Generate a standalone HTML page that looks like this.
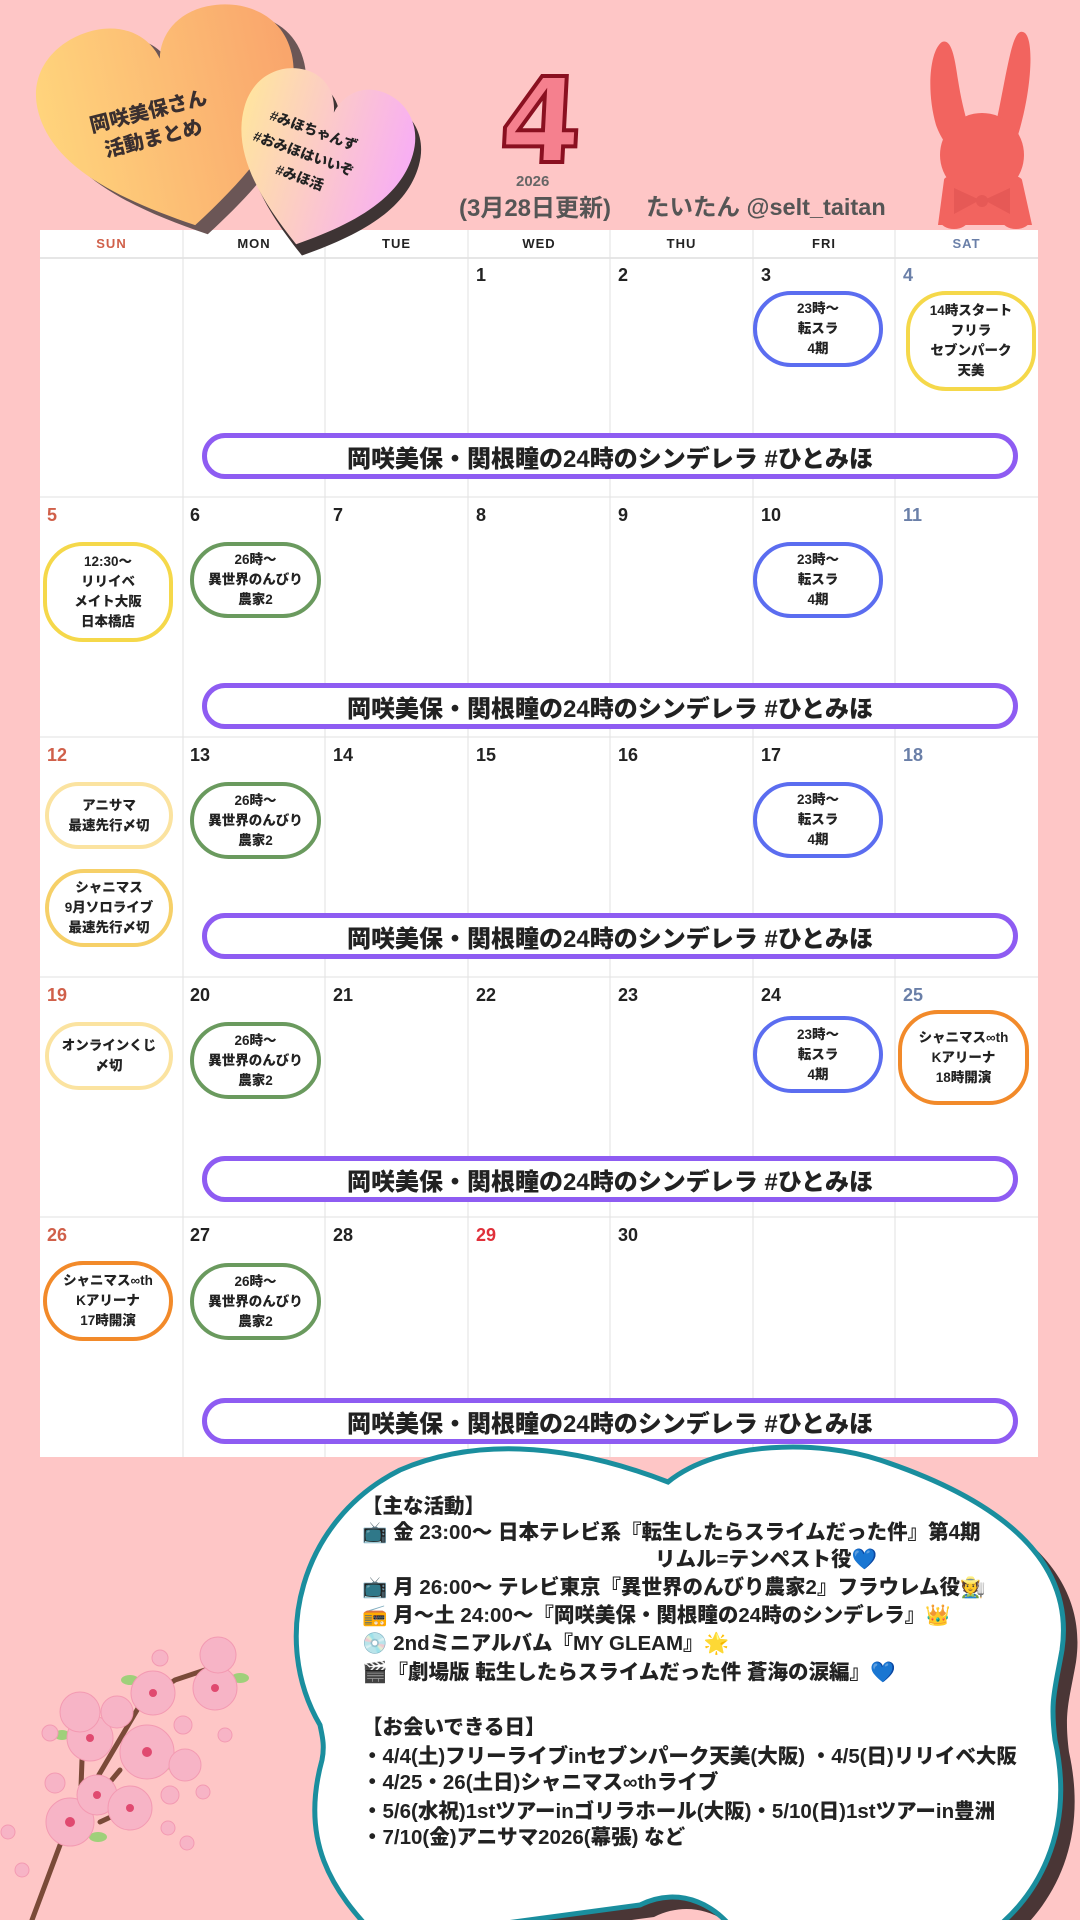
<!DOCTYPE html>
<html><head><meta charset="utf-8">
<style>
*{margin:0;padding:0;box-sizing:border-box}
html,body{width:1080px;height:1920px;overflow:hidden}
body{background:#fec6c6;position:relative;font-family:"Liberation Sans","Noto Sans CJK JP",sans-serif;font-weight:700;color:#222}
.a{position:absolute}
.pill{position:absolute;border-radius:40px;border:4px solid;background:#fff;display:flex;align-items:center;justify-content:center;text-align:center;font-size:13.5px;line-height:20px;font-weight:900}
.bl{border-color:#5b6df0}.gr{border-color:#6a9a5e}.ye{border-color:#f5d84a}.py{border-color:#fbe3a0}.or{border-color:#f28a2a}.gy{border-color:#f6d068}
.bar{position:absolute;left:202px;width:816px;height:46px;border:5px solid #8e5cf2;border-radius:24px;background:#fff;display:flex;align-items:center;justify-content:center;font-size:24px;font-weight:900}
.dn{position:absolute;font-size:18px;font-weight:900}
.hd{position:absolute;top:230px;height:27px;font-size:13px;display:flex;align-items:center;justify-content:center;font-weight:900;letter-spacing:1px}
.ct{position:absolute;left:362px;font-size:20.5px;font-weight:900;white-space:nowrap;line-height:26px}
</style></head><body>

<!-- 4 -->
<div class="a" style="left:500px;top:62px;font-size:118px;font-weight:900;color:#f5808e;-webkit-text-stroke:4px #8a1020;line-height:1;font-family:'DejaVu Sans',sans-serif;transform:skewX(-3deg)">4</div>
<div class="a" style="left:516px;top:173px;font-size:15px;color:#666;font-weight:900">2026</div>
<div class="a" style="left:459px;top:188px;font-size:24px;color:#555;font-weight:700">(3月28日更新)</div>
<div class="a" style="left:646px;top:188px;font-size:23.5px;color:#555;font-weight:700">たいたん @selt_taitan</div>

<!-- rabbit -->
<svg class="a" style="left:920px;top:20px" width="140" height="210">
<g fill="#f2645f">
<path d="M22,22 C10,30 6,70 16,105 C22,122 32,132 42,140 L58,130 C48,110 42,85 38,60 C35,40 32,18 22,22Z"/>
<path d="M103,12 C115,15 112,70 98,115 L88,135 L70,128 C78,100 84,60 90,35 C94,18 98,10 103,12Z"/>
<circle cx="62" cy="135" r="42"/>
<path d="M24,160 C24,150 100,150 102,160 L112,205 L18,205Z"/>
<ellipse cx="34" cy="200" rx="14" ry="9"/><ellipse cx="96" cy="200" rx="14" ry="9"/>
</g>
<path d="M34,168 L60,180 L34,194Z M90,168 L64,180 L90,194Z" fill="#e65956"/>
<circle cx="62" cy="181" r="6" fill="#e65956"/>
</svg>

<!-- calendar -->
<div class="a" style="left:40px;top:230px;width:998px;height:1227px;background:#fff"></div>
<div class="a" style="left:40px;top:257px;width:998px;height:2px;background:#e6e6e6"></div>
<svg class="a" style="left:40px;top:230px" width="998" height="1227">
<g stroke="#e2e2e2" stroke-width="1">
<line x1="143" y1="0" x2="143" y2="1227"/><line x1="285" y1="0" x2="285" y2="1227"/><line x1="428" y1="0" x2="428" y2="1227"/><line x1="570" y1="0" x2="570" y2="1227"/><line x1="713" y1="0" x2="713" y2="1227"/><line x1="855" y1="0" x2="855" y2="1227"/>
<line x1="0" y1="267" x2="998" y2="267"/><line x1="0" y1="507" x2="998" y2="507"/><line x1="0" y1="747" x2="998" y2="747"/><line x1="0" y1="987" x2="998" y2="987"/>
</g></svg>
<div class="hd" style="left:40px;width:143px;color:#d0604a">SUN</div>
<div class="hd" style="left:183px;width:142px">MON</div>
<div class="hd" style="left:325px;width:143px">TUE</div>
<div class="hd" style="left:468px;width:142px">WED</div>
<div class="hd" style="left:610px;width:143px">THU</div>
<div class="hd" style="left:753px;width:142px">FRI</div>
<div class="hd" style="left:895px;width:143px;color:#6a7fa8">SAT</div>

<!-- hearts (above calendar) -->
<svg class="a" style="left:0;top:0" width="460" height="290">
<defs>
<linearGradient id="g1" x1="0" x2="1" y1="0" y2="0"><stop offset="0" stop-color="#ffd47c"/><stop offset="1" stop-color="#f9a56c"/></linearGradient>
<linearGradient id="g2" x1="0" x2="1" y1="0" y2="0"><stop offset="0" stop-color="#ffe4a0"/><stop offset="1" stop-color="#f8aef4"/></linearGradient>
<path id="h" d="M50,92 C20,72 0,52 0,28 C0,10 14,0 28,0 C40,0 48,8 50,18 C52,8 60,0 72,0 C86,0 100,10 100,28 C100,52 80,72 50,92Z"/>
</defs>
<g transform="translate(42,16) rotate(-12 130 100) scale(2.6,2.3)">
<use href="#h" fill="#6b5656" transform="translate(4,5)"/>
<use href="#h" fill="url(#g1)"/>
</g>
<g transform="translate(232,78) rotate(16 90 85) scale(1.75,1.85)">
<use href="#h" fill="#3e3434" transform="translate(5,5)"/>
<use href="#h" fill="url(#g2)"/>
</g>
<g font-family="Liberation Sans,Noto Sans CJK JP,sans-serif" font-weight="900" fill="#3a2f2f">
<text x="150" y="118" font-size="20" text-anchor="middle" transform="rotate(-14 150 118)">岡咲美保さん</text>
<text x="155" y="145" font-size="20" text-anchor="middle" transform="rotate(-14 155 145)">活動まとめ</text>
</g>
<g font-family="Liberation Sans,Noto Sans CJK JP,sans-serif" font-weight="900" fill="#222" font-size="14">
<text x="312" y="135" text-anchor="middle" transform="rotate(20 312 135)">#みほちゃんず</text>
<text x="302" y="158" text-anchor="middle" transform="rotate(20 302 158)">#おみほはいいぞ</text>
<text x="298" y="182" text-anchor="middle" transform="rotate(20 298 182)">#みほ活</text>
</g>
</svg>

<!-- day numbers -->
<div class="dn" style="left:476px;top:265px">1</div><div class="dn" style="left:618px;top:265px">2</div><div class="dn" style="left:761px;top:265px">3</div><div class="dn" style="left:903px;top:265px;color:#6a7fa8">4</div>
<div class="dn" style="left:47px;top:505px;color:#d0604a">5</div><div class="dn" style="left:190px;top:505px">6</div><div class="dn" style="left:333px;top:505px">7</div><div class="dn" style="left:476px;top:505px">8</div><div class="dn" style="left:618px;top:505px">9</div><div class="dn" style="left:761px;top:505px">10</div><div class="dn" style="left:903px;top:505px;color:#6a7fa8">11</div>
<div class="dn" style="left:47px;top:745px;color:#d0604a">12</div><div class="dn" style="left:190px;top:745px">13</div><div class="dn" style="left:333px;top:745px">14</div><div class="dn" style="left:476px;top:745px">15</div><div class="dn" style="left:618px;top:745px">16</div><div class="dn" style="left:761px;top:745px">17</div><div class="dn" style="left:903px;top:745px;color:#6a7fa8">18</div>
<div class="dn" style="left:47px;top:985px;color:#d0604a">19</div><div class="dn" style="left:190px;top:985px">20</div><div class="dn" style="left:333px;top:985px">21</div><div class="dn" style="left:476px;top:985px">22</div><div class="dn" style="left:618px;top:985px">23</div><div class="dn" style="left:761px;top:985px">24</div><div class="dn" style="left:903px;top:985px;color:#6a7fa8">25</div>
<div class="dn" style="left:47px;top:1225px;color:#d0604a">26</div><div class="dn" style="left:190px;top:1225px">27</div><div class="dn" style="left:333px;top:1225px">28</div><div class="dn" style="left:476px;top:1225px;color:#e0303a">29</div><div class="dn" style="left:618px;top:1225px">30</div>

<!-- pills -->
<div class="pill bl" style="left:753px;top:291px;width:130px;height:76px">23時～<br>転スラ<br>4期</div>
<div class="pill ye" style="left:906px;top:291px;width:130px;height:100px">14時スタート<br>フリラ<br>セブンパーク<br>天美</div>
<div class="pill ye" style="left:43px;top:542px;width:130px;height:100px">12:30～<br>リリイベ<br>メイト大阪<br>日本橋店</div>
<div class="pill gr" style="left:190px;top:542px;width:131px;height:76px">26時～<br>異世界のんびり<br>農家2</div>
<div class="pill bl" style="left:753px;top:542px;width:130px;height:76px">23時～<br>転スラ<br>4期</div>
<div class="pill py" style="left:45px;top:782px;width:128px;height:67px">アニサマ<br>最速先行〆切</div>
<div class="pill gy" style="left:45px;top:869px;width:128px;height:78px">シャニマス<br>9月ソロライブ<br>最速先行〆切</div>
<div class="pill gr" style="left:190px;top:782px;width:131px;height:77px">26時～<br>異世界のんびり<br>農家2</div>
<div class="pill bl" style="left:753px;top:782px;width:130px;height:76px">23時～<br>転スラ<br>4期</div>
<div class="pill py" style="left:45px;top:1022px;width:128px;height:68px">オンラインくじ<br>〆切</div>
<div class="pill gr" style="left:190px;top:1022px;width:131px;height:77px">26時～<br>異世界のんびり<br>農家2</div>
<div class="pill bl" style="left:753px;top:1016px;width:130px;height:77px">23時～<br>転スラ<br>4期</div>
<div class="pill or" style="left:898px;top:1010px;width:131px;height:95px">シャニマス∞th<br>Kアリーナ<br>18時開演</div>
<div class="pill or" style="left:43px;top:1261px;width:130px;height:80px">シャニマス∞th<br>Kアリーナ<br>17時開演</div>
<div class="pill gr" style="left:190px;top:1263px;width:131px;height:77px">26時～<br>異世界のんびり<br>農家2</div>

<!-- bars -->
<div class="bar" style="top:433px">岡咲美保・関根瞳の24時のシンデレラ #ひとみほ</div>
<div class="bar" style="top:683px">岡咲美保・関根瞳の24時のシンデレラ #ひとみほ</div>
<div class="bar" style="top:913px">岡咲美保・関根瞳の24時のシンデレラ #ひとみほ</div>
<div class="bar" style="top:1156px">岡咲美保・関根瞳の24時のシンデレラ #ひとみほ</div>
<div class="bar" style="top:1398px">岡咲美保・関根瞳の24時のシンデレラ #ひとみほ</div>

<!-- cherry blossom -->
<svg class="a" style="left:0;top:1600px" width="300" height="320">
<g stroke="#7a4a38" stroke-width="5" fill="none" stroke-linecap="round">
<path d="M32,320 L60,245 L90,190 L140,105 L175,80 L205,70"/>
<path d="M80,215 L82,160"/><path d="M95,200 L120,170"/><path d="M100,222 L115,215"/>
</g>
<g fill="#9fd07a"><ellipse cx="130" cy="80" rx="9" ry="5"/><ellipse cx="240" cy="78" rx="9" ry="5"/><ellipse cx="62" cy="135" rx="8" ry="5"/><ellipse cx="98" cy="237" rx="9" ry="5"/><ellipse cx="172" cy="165" rx="8" ry="5"/></g>
<g fill="#f7b4c6" stroke="#f39ab2" stroke-width="1">
<circle cx="70" cy="222" r="24"/><circle cx="97" cy="195" r="20"/><circle cx="130" cy="208" r="22"/><circle cx="147" cy="152" r="27"/><circle cx="90" cy="138" r="23"/><circle cx="153" cy="93" r="22"/><circle cx="215" cy="88" r="22"/><circle cx="80" cy="112" r="20"/><circle cx="117" cy="112" r="16"/><circle cx="185" cy="165" r="16"/><circle cx="218" cy="55" r="18"/>
<circle cx="55" cy="183" r="10"/><circle cx="170" cy="195" r="9"/><circle cx="160" cy="58" r="8"/><circle cx="50" cy="133" r="8"/><circle cx="183" cy="125" r="9"/>
<circle cx="8" cy="232" r="7"/><circle cx="22" cy="270" r="7"/><circle cx="168" cy="228" r="7"/><circle cx="187" cy="243" r="7"/><circle cx="203" cy="192" r="7"/><circle cx="225" cy="135" r="7"/>
</g>
<g fill="#e04a70"><circle cx="70" cy="222" r="5"/><circle cx="97" cy="195" r="4"/><circle cx="130" cy="208" r="4"/><circle cx="147" cy="152" r="5"/><circle cx="90" cy="138" r="4"/><circle cx="153" cy="93" r="4"/><circle cx="215" cy="88" r="4"/></g>
</svg>

<!-- cloud -->
<svg class="a" style="left:0;top:1400px" width="1080" height="520">
<g transform="translate(0,-1400)">
<path transform="translate(14,12)" fill="#4a3636" d="M668,1482 C720,1440 820,1440 880,1460 C1000,1500 1075,1560 1062,1650 C1055,1690 1050,1700 1055,1740 C1075,1830 1040,1900 980,1940 L740,1940 C720,1905 680,1885 640,1905 L380,1940 C330,1890 300,1840 322,1760 C325,1745 322,1735 320,1725 C270,1640 300,1520 400,1470 C470,1440 560,1440 668,1482 Z"/>
<path fill="#fff" stroke="#1a8e9e" stroke-width="5" d="M668,1482 C720,1440 820,1440 880,1460 C1000,1500 1075,1560 1062,1650 C1055,1690 1050,1700 1055,1740 C1075,1830 1040,1900 980,1940 L740,1940 C720,1905 680,1885 640,1905 L380,1940 C330,1890 300,1840 322,1760 C325,1745 322,1735 320,1725 C270,1640 300,1520 400,1470 C470,1440 560,1440 668,1482 Z"/>
</g>
</svg>

<div class="ct" style="top:1494px">【主な活動】</div>
<div class="ct" style="top:1520px">📺 金 23:00～ 日本テレビ系『転生したらスライムだった件』第4期</div>
<div class="ct" style="top:1547px;left:655px">リムル=テンペスト役💙</div>
<div class="ct" style="top:1575px">📺 月 26:00～ テレビ東京『異世界のんびり農家2』フラウレム役🧑‍🌾</div>
<div class="ct" style="top:1603px">📻 月～土 24:00～『岡咲美保・関根瞳の24時のシンデレラ』👑</div>
<div class="ct" style="top:1631px">💿 2ndミニアルバム『MY GLEAM』🌟</div>
<div class="ct" style="top:1660px">🎬『劇場版 転生したらスライムだった件 蒼海の涙編』💙</div>
<div class="ct" style="top:1715px">【お会いできる日】</div>
<div class="ct" style="top:1744px">・4/4(土)フリーライブinセブンパーク天美(大阪) ・4/5(日)リリイベ大阪</div>
<div class="ct" style="top:1770px">・4/25・26(土日)シャニマス∞thライブ</div>
<div class="ct" style="top:1799px">・5/6(水祝)1stツアーinゴリラホール(大阪)・5/10(日)1stツアーin豊洲</div>
<div class="ct" style="top:1825px">・7/10(金)アニサマ2026(幕張) など</div>
</body></html>
